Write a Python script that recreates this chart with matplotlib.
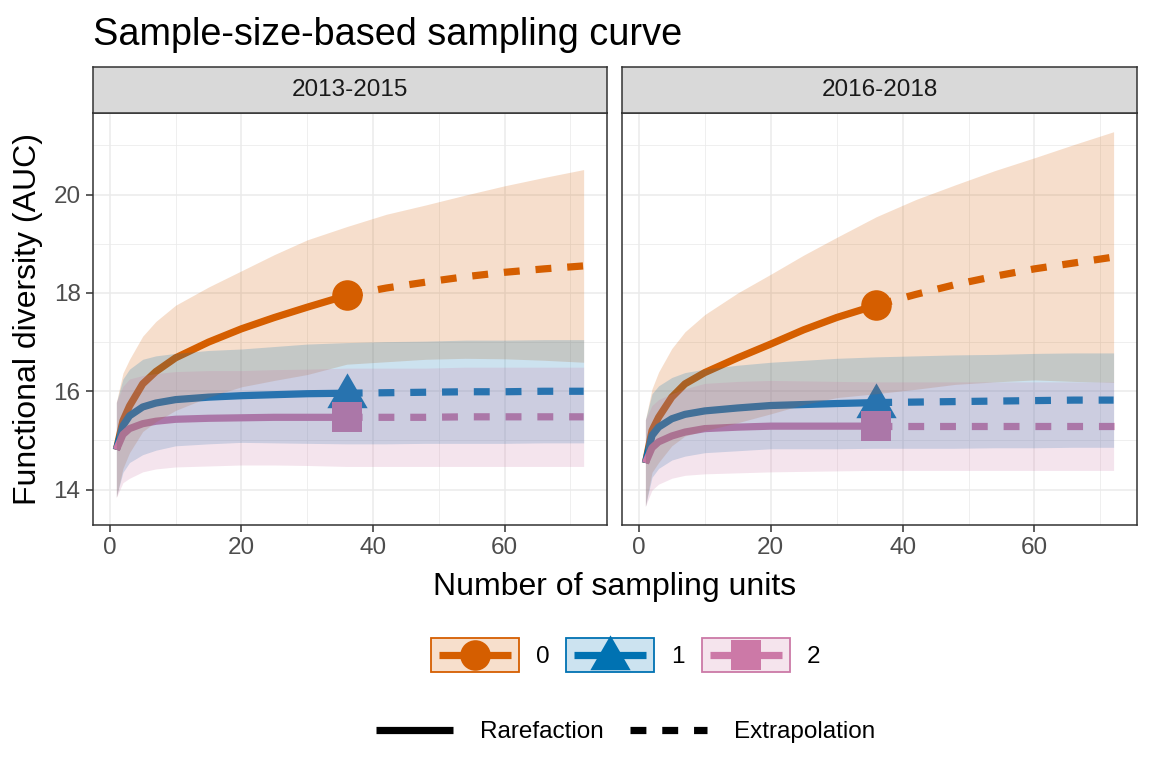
import numpy as np
import matplotlib.pyplot as plt
from matplotlib.lines import Line2D
from matplotlib.patches import Rectangle
from matplotlib.colors import to_rgba
from matplotlib.legend_handler import HandlerBase

plt.rcParams['font.family'] = ['Liberation Sans', 'DejaVu Sans']

# ======================================================
# Data
# ======================================================

periods = ["2013-2015", "2016-2018"]
orders = ["0", "1", "2"]
order_colors = ["#D55E00", "#0072B2", "#CC79A7"]
order_markers = ["o", "tri", "s"]

rare_x = [1, 2, 3, 5, 7, 10, 15, 20, 25, 30, 36]
extra_x = [36, 42, 48, 54, 60, 66, 72]

# 2013-2015
rare_q0_a = [14.81, 15.40, 15.70, 16.15, 16.40, 16.68, 17.00, 17.27, 17.50, 17.71, 17.95]
extra_q0_a = [17.95, 18.10, 18.22, 18.33, 18.42, 18.49, 18.55]
half_rare_q0_a = [0.97, 0.97, 0.95, 0.97, 1.02, 1.07, 1.12, 1.18, 1.28, 1.37, 1.40]
half_extra_q0_a = [1.40, 1.50, 1.57, 1.66, 1.76, 1.86, 1.96]

rare_q1_a = [14.81, 15.30, 15.50, 15.68, 15.76, 15.83, 15.88, 15.91, 15.93, 15.95, 15.96]
extra_q1_a = [15.96, 15.97, 15.98, 15.99, 15.99, 16.00, 16.00]
half_rare_q1_a = [0.96, 0.95, 0.95, 0.97, 0.96, 0.94, 0.95, 0.95, 0.98, 1.01, 1.03]
half_extra_q1_a = [1.03, 1.04, 1.04, 1.05, 1.05, 1.05, 1.05]

rare_q2_a = [14.81, 15.12, 15.24, 15.34, 15.39, 15.43, 15.45, 15.46, 15.47, 15.47, 15.47]
extra_q2_a = [15.47, 15.47, 15.47, 15.48, 15.48, 15.48, 15.48]
half_rare_q2_a = [0.97, 0.98, 1.01, 0.98, 0.97, 0.97, 0.97, 0.96, 0.97, 0.98, 1.00]
half_extra_q2_a = [1.00, 1.00, 1.00, 1.01, 1.01, 1.01, 1.01]

# 2016-2018
rare_q0_b = [14.54, 15.20, 15.47, 15.88, 16.15, 16.38, 16.68, 16.96, 17.25, 17.50, 17.75]
extra_q0_b = [17.75, 17.97, 18.17, 18.34, 18.49, 18.61, 18.73]
half_rare_q0_b = [0.88, 0.85, 0.92, 0.99, 1.06, 1.18, 1.32, 1.42, 1.52, 1.63, 1.80]
half_extra_q0_b = [1.80, 1.93, 2.03, 2.15, 2.26, 2.41, 2.55]

rare_q1_b = [14.54, 15.10, 15.27, 15.44, 15.53, 15.60, 15.66, 15.71, 15.73, 15.75, 15.77]
extra_q1_b = [15.77, 15.78, 15.79, 15.80, 15.81, 15.82, 15.82]
half_rare_q1_b = [0.88, 0.85, 0.84, 0.84, 0.85, 0.85, 0.87, 0.88, 0.90, 0.92, 0.93]
half_extra_q1_b = [0.93, 0.94, 0.95, 0.95, 0.96, 0.96, 0.96]

rare_q2_b = [14.54, 14.85, 14.97, 15.09, 15.17, 15.24, 15.27, 15.29, 15.29, 15.29, 15.29]
extra_q2_b = [15.29, 15.29, 15.29, 15.29, 15.29, 15.29, 15.29]
half_rare_q2_b = [0.88, 0.86, 0.86, 0.86, 0.88, 0.92, 0.93, 0.93, 0.92, 0.91, 0.90]
half_extra_q2_b = [0.90, 0.90, 0.90, 0.90, 0.90, 0.90, 0.90]

panels = {
    "2013-2015": [
        (rare_q0_a, extra_q0_a, half_rare_q0_a, half_extra_q0_a),
        (rare_q1_a, extra_q1_a, half_rare_q1_a, half_extra_q1_a),
        (rare_q2_a, extra_q2_a, half_rare_q2_a, half_extra_q2_a),
    ],
    "2016-2018": [
        (rare_q0_b, extra_q0_b, half_rare_q0_b, half_extra_q0_b),
        (rare_q1_b, extra_q1_b, half_rare_q1_b, half_extra_q1_b),
        (rare_q2_b, extra_q2_b, half_rare_q2_b, half_extra_q2_b),
    ],
}

# ======================================================
# Style
# ======================================================

W, H = 1152, 768
LW = 5.2
DASH = (2.2, 2.2)
TRI = [(0, 1.0), (-1.0, -0.73), (1.0, -0.73)]
MARKER_SIZE = {"o": 22, "tri": 29, "s": 21}
TICK_FS = 17.5
GRID = "#EBEBEB"
DARK = "#333333"


def marker_of(name):
    return TRI if name == "tri" else name


def px_box(x0, y0, x1, y1):
    # pixel box (top-left origin) -> figure fraction rect
    return [x0 / W, 1 - y1 / H, (x1 - x0) / W, (y1 - y0) / H]


def tint(color, a):
    r, g, b, _ = to_rgba(color)
    return (1 - a + a * r, 1 - a + a * g, 1 - a + a * b)


fig = plt.figure(figsize=(W / 100, H / 100), dpi=100)

# shared limits with ggplot-like 5% expansion
all_lo, all_hi = [], []
for series in panels.values():
    for rare, extra, hr, he in series:
        all_lo += list(np.array(rare) - np.array(hr)) + list(np.array(extra) - np.array(he))
        all_hi += list(np.array(rare) + np.array(hr)) + list(np.array(extra) + np.array(he))
ymin, ymax = min(all_lo), max(all_hi)
ypad = 0.05 * (ymax - ymin)
xmin, xmax = rare_x[0], extra_x[-1]
xpad = 0.05 * (xmax - xmin)

panel_px = [(93, 113, 607, 525), (622, 113, 1137, 525)]

for i, period in enumerate(periods):
    x0, y0, x1, y1 = panel_px[i]
    ax = fig.add_axes(px_box(x0, y0, x1, y1))
    strip = fig.add_axes(px_box(x0, 67, x1, y0))

    for (rare, extra, hr, he), col, mk in zip(panels[period], order_colors, order_markers):
        ax.plot(rare_x, rare, color=col, lw=LW, solid_capstyle="butt", zorder=2)
        ax.plot(extra_x, extra, color=col, lw=LW, dashes=DASH, dash_capstyle="butt", zorder=2)
        ax.plot([rare_x[-1]], [rare[-1]], linestyle="none", marker=marker_of(mk),
                ms=MARKER_SIZE[mk], color=col, mew=0, zorder=2.5)

    # ribbons are drawn over lines and points, as in the reference
    for (rare, extra, hr, he), col in zip(panels[period], order_colors):
        xs = np.array(rare_x + extra_x[1:])
        ys = np.array(rare + extra[1:])
        hw = np.array(hr + he[1:])
        ax.fill_between(xs, ys - hw, ys + hw, color=col, alpha=0.2, lw=0, zorder=3)

    ax.set_xlim(xmin - xpad, xmax + xpad)
    ax.set_ylim(ymin - ypad, ymax + ypad)
    ax.set_xticks([0, 20, 40, 60])
    ax.set_xticks([10, 30, 50, 70], minor=True)
    ax.set_yticks([14, 16, 18, 20])
    ax.set_yticks([15, 17, 19, 21], minor=True)
    ax.grid(True, which="major", color=GRID, lw=1.1, zorder=0)
    ax.grid(True, which="minor", color=GRID, lw=0.55, zorder=0)
    ax.set_axisbelow(True)
    ax.tick_params(which="minor", length=0)
    ax.tick_params(which="major", length=5, width=1.1, color=DARK,
                   labelsize=TICK_FS, labelcolor="#4D4D4D", pad=4)
    if i > 0:
        ax.tick_params(axis="y", which="both", left=False, labelleft=False)
    for sp in ax.spines.values():
        sp.set_color(DARK)
        sp.set_linewidth(1.1)

    strip.set_facecolor("#D9D9D9")
    strip.set_xticks([])
    strip.set_yticks([])
    for sp in strip.spines.values():
        sp.set_color(DARK)
        sp.set_linewidth(1.1)
    strip.text(0.5, 0.5, period, ha="center", va="center", fontsize=TICK_FS,
               color="#1A1A1A", transform=strip.transAxes)

# ======================================================
# Titles
# ======================================================

fig.text(93 / W, 1 - 45 / H, "Sample-size-based sampling curve", fontsize=27.3,
         ha="left", va="baseline")
fig.text(28 / W, 1 - 319 / H, "Functional diversity (AUC)", fontsize=23,
         rotation=90, ha="center", va="center")
fig.text(615 / W, 1 - 587 / H, "Number of sampling units", fontsize=23,
         ha="center", va="center")

# ======================================================
# Legends
# ======================================================


class Key:
    def __init__(self, color, marker):
        self.color = color
        self.marker = marker


class KeyHandler(HandlerBase):
    def create_artists(self, legend, orig_handle, xdescent, ydescent,
                       width, height, fontsize, trans):
        x0, y0 = -xdescent, -ydescent
        col = orig_handle.color
        box = Rectangle((x0, y0), width, height, facecolor=tint(col, 0.2),
                        edgecolor=col, lw=1.3, transform=trans)
        ym = y0 + height / 2
        line = Line2D([x0 + 0.09 * width, x0 + 0.91 * width], [ym, ym], color=col,
                      lw=LW, solid_capstyle="butt", transform=trans)
        mk = orig_handle.marker
        dot = Line2D([x0 + width / 2], [ym], linestyle="none", marker=marker_of(mk),
                     ms=MARKER_SIZE[mk], color=col, mew=0, transform=trans)
        return [box, line, dot]


keys = [Key(c, m) for c, m in zip(order_colors, order_markers)]
fig.legend(keys, orders, handler_map={Key: KeyHandler()}, loc="center",
           bbox_to_anchor=(0.543, 1 - 655 / H), ncol=3, frameon=False,
           fontsize=TICK_FS, handlelength=3.62, handleheight=1.81,
           handletextpad=0.7, columnspacing=0.7)

method_handles = [
    Line2D([], [], color="black", lw=LW, solid_capstyle="butt"),
    Line2D([], [], color="black", lw=LW, dashes=DASH, dash_capstyle="butt"),
]
fig.legend(method_handles, ["Rarefaction", "Extrapolation"], loc="center",
           bbox_to_anchor=(0.543, 1 - 732 / H), ncol=2, frameon=False,
           fontsize=TICK_FS, handlelength=3.17, handletextpad=1.1,
           columnspacing=1.07)

fig.savefig("out.png", dpi=100)
